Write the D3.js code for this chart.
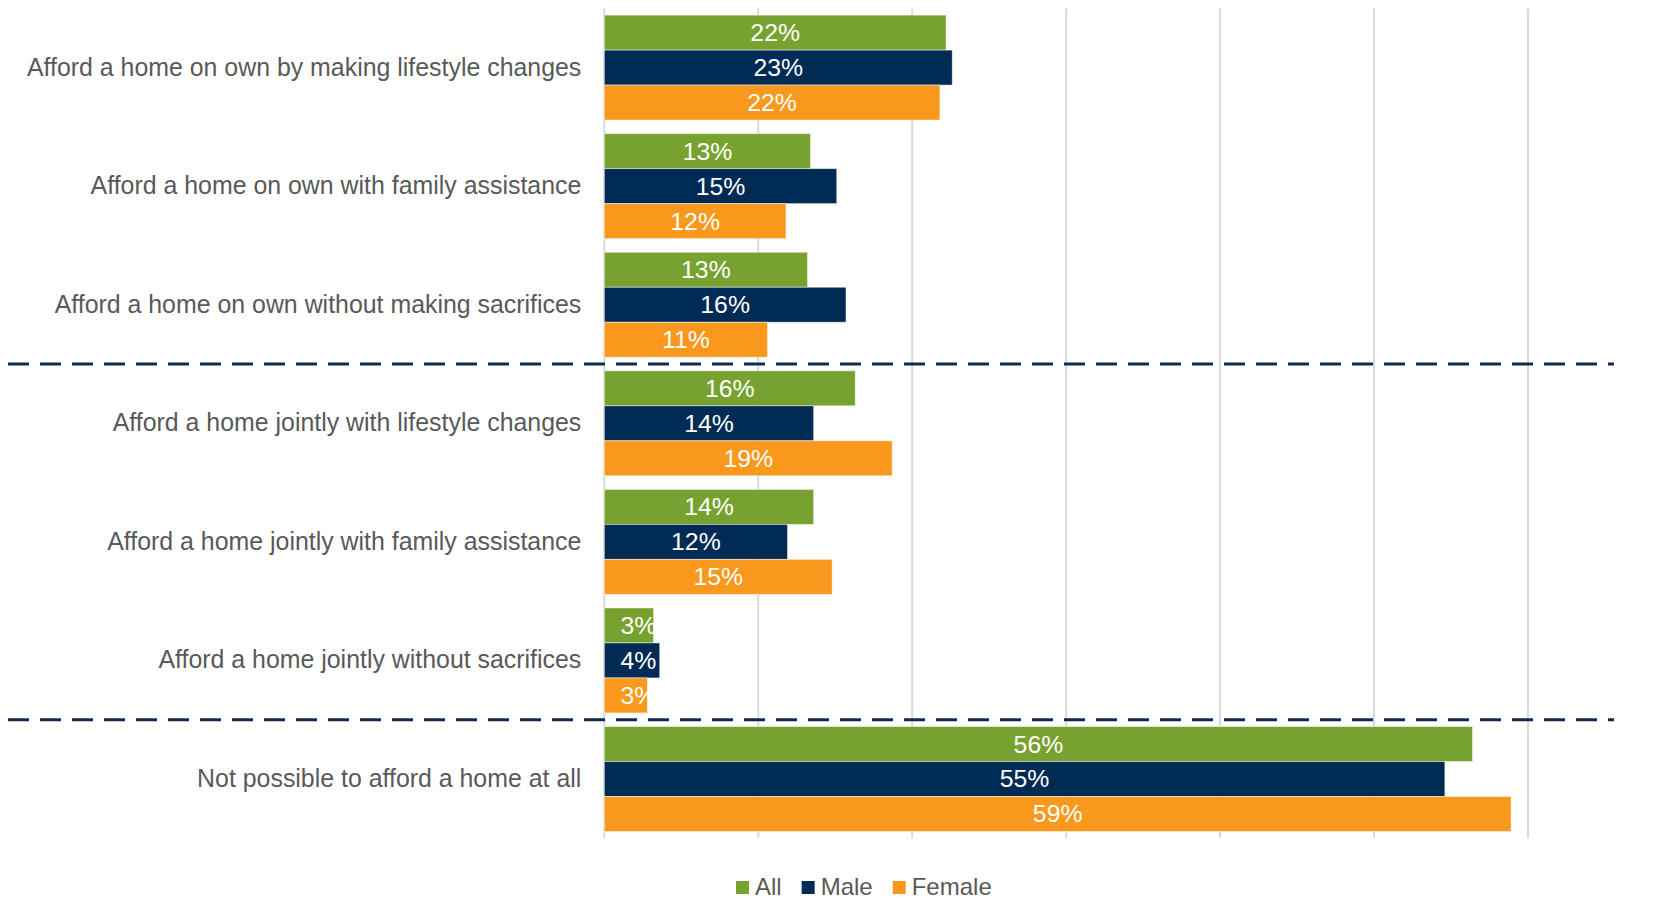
<!DOCTYPE html>
<html>
<head>
<meta charset="utf-8">
<script src="https://cdn.jsdelivr.net/npm/d3@7"></script>
<style>
  html, body { margin: 0; padding: 0; background: #ffffff; }
  svg { display: block; font-family: "Liberation Sans", Arial, sans-serif; }
</style>
</head>
<body>
<svg id="chart" width="1662" height="901"></svg>
<script>
// Survey categories, top to bottom
const categories = [
  "Afford a home on own by making lifestyle changes",
  "Afford a home on own with family assistance",
  "Afford a home on own without making sacrifices",
  "Afford a home jointly with lifestyle changes",
  "Afford a home jointly with family assistance",
  "Afford a home jointly without sacrifices",
  "Not possible to afford a home at all"
];

// Share of respondents (%), one array per series
const allValues    = [22.2, 13.4, 13.2, 16.3, 13.6, 3.2, 56.4];
const maleValues   = [22.6, 15.1, 15.7, 13.6, 11.9, 3.6, 54.6];
const femaleValues = [21.8, 11.8, 10.6, 18.7, 14.8, 2.8, 58.9];

const seriesNames  = ["All", "Male", "Female"];
const seriesColors = ["#78A22F", "#002B55", "#F8991D"];

// Gridline positions (%)
const xTicks = [0, 10, 20, 30, 40, 50, 60];

// Groups are separated after these category indices
const separatorsAfter = [2, 5];

const series = [allValues, maleValues, femaleValues];

const svg = d3.select("#chart");
const margin = { left: 604.3, right: 134, top: 8.3, bottom: 62.7 };
const width = 1662, height = 901;

const x = d3.scaleLinear()
  .domain([0, 60])
  .range([margin.left, width - margin.right]);

const y = d3.scaleBand()
  .domain(categories)
  .range([margin.top, height - margin.bottom])
  .paddingInner(0.115)
  .paddingOuter(0.0575);

const ySub = d3.scaleBand()
  .domain(seriesNames)
  .range([0, y.bandwidth()]);

// Vertical gridlines
svg.append("g")
  .selectAll("line")
  .data(xTicks)
  .join("line")
  .attr("x1", d => x(d))
  .attr("x2", d => x(d))
  .attr("y1", margin.top)
  .attr("y2", height - margin.bottom)
  .attr("stroke", "#D9D9D9")
  .attr("stroke-width", 2);

// Category labels
const yAxis = d3.axisLeft(y).tickSize(0).tickPadding(23);
const yAxisG = svg.append("g")
  .attr("transform", `translate(${x(0)},0)`)
  .call(yAxis);
yAxisG.select(".domain").remove();
yAxisG.selectAll("text")
  .attr("fill", "#595959")
  .attr("font-size", "24.9px")
  .attr("font-family", "'Liberation Sans', Arial, sans-serif");

// Bars
const rows = categories.map((c, i) => ({
  category: c,
  values: seriesNames.map((s, j) => ({ series: s, color: seriesColors[j], value: series[j][i] }))
}));

const groups = svg.append("g")
  .selectAll("g")
  .data(rows)
  .join("g")
  .attr("transform", d => `translate(0,${y(d.category)})`);

groups.selectAll("rect")
  .data(d => d.values)
  .join("rect")
  .attr("x", x(0))
  .attr("y", d => ySub(d.series))
  .attr("width", d => x(d.value) - x(0))
  .attr("height", ySub.bandwidth())
  .attr("fill", d => d.color)
  .attr("stroke", "#ffffff")
  .attr("stroke-opacity", 0.6)
  .attr("stroke-width", 0.8);

// Value labels (white, centred in the bar, kept clear of the axis for short bars)
groups.selectAll("text")
  .data(d => d.values)
  .join("text")
  .attr("x", d => Math.max((x(0) + x(d.value)) / 2, x(0) + 34))
  .attr("y", d => ySub(d.series) + ySub.bandwidth() / 2)
  .attr("text-anchor", "middle")
  .attr("dominant-baseline", "central")
  .attr("fill", "#ffffff")
  .attr("font-size", "24.8px")
  .text(d => `${Math.round(d.value)}%`);

// Dashed separators between groups of categories
svg.append("g")
  .selectAll("line")
  .data(separatorsAfter)
  .join("line")
  .attr("x1", 8)
  .attr("x2", 1614)
  .attr("y1", i => y(categories[i + 1]) - y.step() * y.paddingInner() / 2)
  .attr("y2", i => y(categories[i + 1]) - y.step() * y.paddingInner() / 2)
  .attr("stroke", "#0E2A50")
  .attr("stroke-width", 3)
  .attr("stroke-dasharray", "21,11");

// Legend
const legend = svg.append("g").attr("transform", "translate(736,0)");
let lx = 0;
seriesNames.forEach((name, i) => {
  legend.append("rect")
    .attr("x", lx)
    .attr("y", 881)
    .attr("width", 13)
    .attr("height", 13)
    .attr("fill", seriesColors[i]);
  const t = legend.append("text")
    .attr("x", lx + 19)
    .attr("y", 895)
    .attr("fill", "#595959")
    .attr("font-size", "24px")
    .text(name);
  lx += 19 + t.node().getComputedTextLength() + 20;
});
</script>
</body>
</html>
